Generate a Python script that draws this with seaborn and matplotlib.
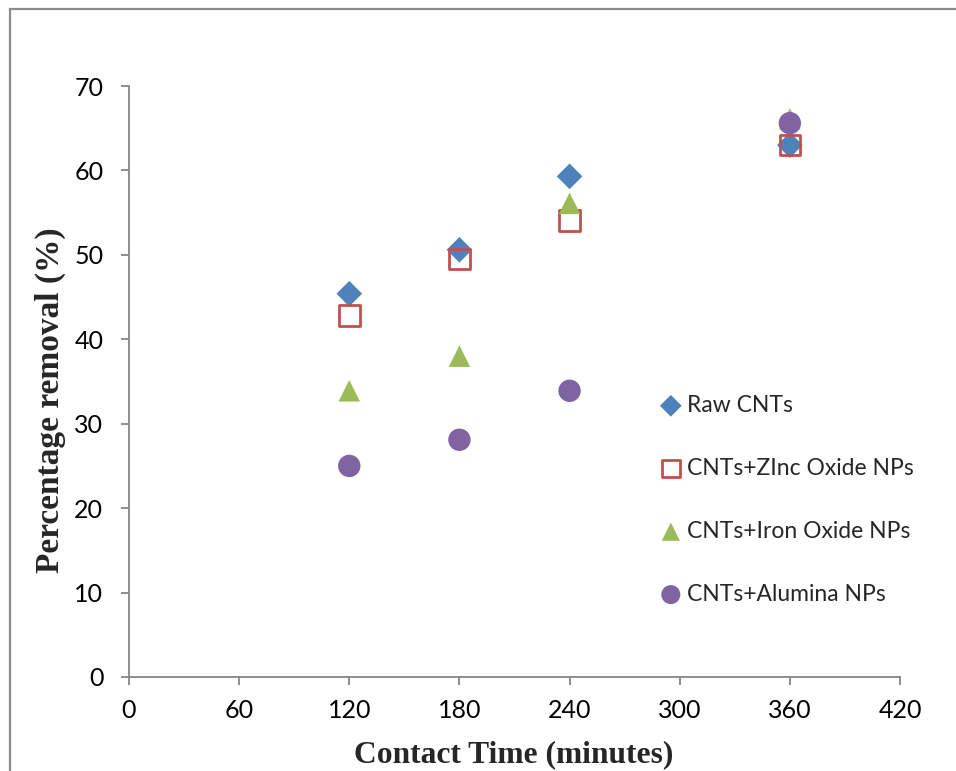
import matplotlib
matplotlib.use("Agg")
import matplotlib.pyplot as plt
from matplotlib.patches import Rectangle
import pandas as pd
import seaborn as sns

# Contact time (minutes) and percentage removal for each adsorbent
contact_time = [120, 180, 240, 360]
raw_cnts = [45.4, 50.6, 59.3, 63.0]
zinc_oxide = [42.8, 49.5, 54.1, 63.0]
iron_oxide = [33.9, 38.0, 56.1, 66.1]
alumina = [25.0, 28.1, 33.9, 65.6]

series_names = ["Raw CNTs", "CNTs+ZInc Oxide NPs", "CNTs+Iron Oxide NPs", "CNTs+Alumina NPs"]
x_ticks = [0, 60, 120, 180, 240, 300, 360, 420]
y_ticks = [0, 10, 20, 30, 40, 50, 60, 70]

sns.set_theme(style="white")
plt.rcParams["font.family"] = ["Lato", "DejaVu Sans"]

fig = plt.figure(figsize=(9.56, 7.71), dpi=100)
ax = fig.add_axes([129 / 956, 1 - 677 / 771, (900 - 129) / 956, (677 - 86) / 771])

# outer frame around the chart area (runs off the right and bottom edges)
frame_top = 1 - 9 / 771
frame = Rectangle((10 / 956, -0.5), 2.0, frame_top + 0.5,
                  transform=fig.transFigure, fill=False, edgecolor="#8c8c8c",
                  linewidth=1.6, zorder=0)
fig.patches.append(frame)

styles = [
    dict(marker="D", s=170, color="#4F81BD", edgecolor="none"),
    dict(marker="s", s=220, facecolor="none", edgecolor="#C0504D", linewidth=2.0),
    dict(marker="^", s=240, color="#9BBB59", edgecolor="none"),
    dict(marker="o", s=260, color="#8064A2", edgecolor="none"),
]
values = [raw_cnts, zinc_oxide, iron_oxide, alumina]

for name, vals, st in zip(series_names, values, styles):
    df = pd.DataFrame({"Contact Time": contact_time, "Removal": vals})
    sns.scatterplot(data=df, x="Contact Time", y="Removal", ax=ax, label=name, **st)

ax.set_xlim(0, 420)
ax.set_ylim(0, 70)
ax.set_xticks(x_ticks)
ax.set_yticks(y_ticks)
ax.tick_params(axis="both", which="major", labelsize=18, colors="#868686",
               labelcolor="black", length=6, width=1.3, direction="out",
               left=True, bottom=True)
ax.tick_params(axis="x", pad=10)
ax.tick_params(axis="y", pad=12.5)

for side in ["top", "right"]:
    ax.spines[side].set_visible(False)
for side in ["left", "bottom"]:
    ax.spines[side].set_color("#868686")
    ax.spines[side].set_linewidth(1.3)

ax.set_xlabel("Contact Time (minutes)", family="Liberation Serif", weight="bold", size=22.7)
ax.set_ylabel("Percentage removal (%)", family="Liberation Serif", weight="bold", size=24)
ax.xaxis.set_label_coords((514 - 129) / 771, -(740 - 677) / 591)
ax.yaxis.set_label_coords(-(129 - 66) / 771, (677 - 400) / 591)

leg = ax.legend(frameon=False, loc="upper left", bbox_to_anchor=(0.676, 0.493),
                fontsize=16.5, labelspacing=1.83, handlelength=1.0,
                handletextpad=0.2, borderaxespad=0, markerscale=0.85)

fig.savefig("out.png", dpi=100)
